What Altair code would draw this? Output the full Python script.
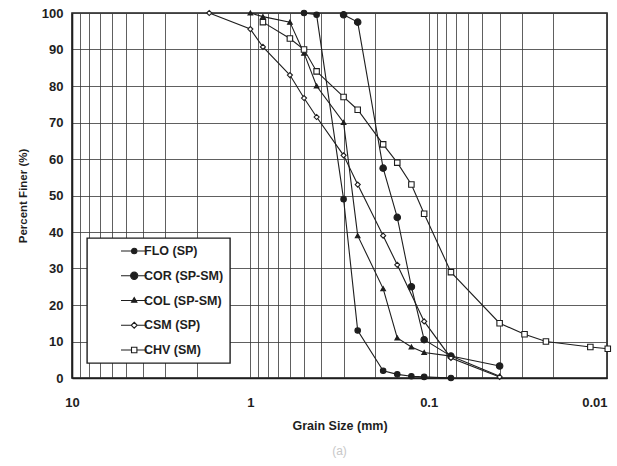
import altair as alt
import pandas as pd

# ---- data ----
series_names = ["FLO (SP)", "COR (SP-SM)", "COL (SP-SM)", "CSM (SP)", "CHV (SM)"]

flo_size = [0.5, 0.425, 0.3, 0.25, 0.18, 0.15, 0.125, 0.106, 0.075]
flo_pct = [100, 99.5, 49, 13, 2, 1, 0.5, 0.3, 0]

cor_size = [0.3, 0.25, 0.18, 0.15, 0.125, 0.106, 0.075, 0.04]
cor_pct = [99.5, 97.5, 57.5, 44, 25, 10.5, 6, 3.3]

col_size = [1.0, 0.85, 0.6, 0.5, 0.425, 0.3, 0.25, 0.18, 0.15, 0.125, 0.106, 0.075, 0.04]
col_pct = [100, 99, 97.5, 89, 80, 70, 39, 24.5, 11, 8.5, 7, 6, 0.5]

csm_size = [1.7, 1.0, 0.85, 0.6, 0.5, 0.425, 0.3, 0.25, 0.18, 0.15, 0.106, 0.075, 0.04]
csm_pct = [100, 95.6, 90.7, 83, 76.7, 71.5, 61, 53, 39, 31, 15.5, 5.5, 0.3]

chv_size = [0.85, 0.6, 0.5, 0.425, 0.3, 0.25, 0.18, 0.15, 0.125, 0.106, 0.075, 0.04, 0.029, 0.022, 0.0124, 0.0099]
chv_pct = [97.5, 93, 90, 84, 77, 73.5, 64, 59, 53, 45, 29, 15, 12, 10, 8.5, 8]

x_grid_values = [0.01, 0.02, 0.03, 0.04, 0.05, 0.06, 0.07, 0.08, 0.09,
                 0.1, 0.2, 0.3, 0.4, 0.5, 0.6, 0.7, 0.8, 0.9,
                 1, 2, 3, 4, 5, 6, 7, 8, 9, 10]
y_values = [0, 10, 20, 30, 40, 50, 60, 70, 80, 90, 100]

# ---- build table ----
rows = []
for name, sz, pc in zip(series_names,
                        [flo_size, cor_size, col_size, csm_size, chv_size],
                        [flo_pct, cor_pct, col_pct, csm_pct, chv_pct]):
    for s, p in zip(sz, pc):
        rows.append({"series": name, "size": s, "pct": p})
df = pd.DataFrame(rows)
df["leg"] = df["series"]

INK = "#1e1e1e"
FONT = "Liberation Sans"

x_enc = alt.X("size:Q",
              scale=alt.Scale(type="log", domain=[0.01, 10], reverse=True, nice=False),
              axis=alt.Axis(values=x_grid_values, title="Grain Size (mm)",
                            labelExpr="(abs(log(datum.value)/LN10 - round(log(datum.value)/LN10)) < 0.001) ? format(datum.value, '~g') : ''",
                            labelAlign=alt.ExprRef(expr="datum.value < 0.011 ? 'right' : 'center'"),
                            ticks=False, labelPadding=18, titlePadding=10, labelFlush=False,
                            labelFontSize=13, titleFontSize=12.5))
y_enc = alt.Y("pct:Q", scale=alt.Scale(domain=[0, 100], nice=False),
              axis=alt.Axis(values=y_values, title="Percent Finer (%)", ticks=False,
                            labelPadding=9, titlePadding=13, labelFlush=False,
                            labelFontSize=13, titleFontSize=11.5))

lines = alt.Chart(df).mark_line(color=INK, strokeWidth=1.1).encode(
    x=x_enc, y=y_enc, detail="series:N", order="size:Q"
)

marker_shape = ["circle", "circle", "triangle-up", "diamond", "square"]
marker_fill = [INK, INK, INK, "white", "white"]
marker_size = [30, 42, 22, 26, 30]

point_layers = []
for name, shp, fil, siz in zip(series_names, marker_shape, marker_fill, marker_size):
    point_layers.append(
        alt.Chart(df).transform_filter(alt.datum.series == name).mark_point(
            shape=shp, fill=fil, filled=True, size=siz, stroke=INK,
            strokeWidth=1.1, opacity=1
        ).encode(x=x_enc, y=y_enc)
    )

# legend glyphs: line + marker (path units scaled by sqrt(size)/2), shifted right by dx units
def glyph(kind, r, dx=1.2):
    L, R = -2.2 + dx, 2.1 + dx
    a, b = dx - r, dx + r
    if kind == "circle":
        return (f"M{L},0H{a}M{b},0H{R}M{a},0A{r},{r} 0 1,0 {b},0A{r},{r} 0 1,0 {a},0Z")
    if kind == "triangle":
        return f"M{L},0H{R}M{dx},{-r - 0.05}L{b},{r - 0.15}H{a}Z"
    if kind == "diamond":
        return f"M{L},0H{a}M{b},0H{R}M{dx},{-r}L{b},0L{dx},{r}L{a},0Z"
    return f"M{L},0H{a}M{b},0H{R}M{a},{-r}H{b}V{r}H{a}Z"

leg_paths = [glyph("circle", 0.45), glyph("circle", 0.6), glyph("triangle", 0.45),
             glyph("diamond", 0.5), glyph("square", 0.45)]

legend_layer = alt.Chart(df).transform_filter("false").mark_point(
    filled=True, stroke=INK, strokeWidth=1.1, opacity=1).encode(
    x=x_enc, y=y_enc,
    shape=alt.Shape("leg:N", scale=alt.Scale(domain=series_names, range=leg_paths),
                    legend=alt.Legend(title=None)),
    fill=alt.Fill("leg:N", scale=alt.Scale(domain=series_names, range=marker_fill),
                  legend=alt.Legend(title=None)),
    stroke=alt.Stroke("leg:N", scale=alt.Scale(domain=series_names, range=[INK] * 5),
                      legend=alt.Legend(title=None)),
)

chart = alt.layer(lines, *point_layers, legend_layer).properties(
    width=535, height=365,
    autosize=alt.AutoSizeParams(type="none"),
    padding={"left": 72, "top": 13, "right": 10, "bottom": 88},
    title=alt.Title("(a)", orient="bottom", color="#c8c8c8", fontSize=12,
                    fontWeight="normal", font=FONT, offset=14),
    background="white",
).configure_view(
    stroke=INK, strokeWidth=1.6
).configure_axis(
    grid=True, gridColor="#3a3a3a", gridWidth=0.9, gridOpacity=0.9,
    domain=True, domainColor=INK, domainWidth=1.6,
    labelFont=FONT, titleFont=FONT, labelFontWeight="bold", titleFontWeight="bold",
    labelColor=INK, titleColor=INK, labelOverlap=False,
).configure_legend(
    orient="bottom-left", offset=15, padding=6,
    strokeColor=INK, strokeWidth=1.4, fillColor="white",
    symbolSize=144, symbolStrokeWidth=1.1, symbolStrokeColor=INK,
    symbolOffset=27, labelOffset=10, rowPadding=10.75,
    labelFont=FONT, labelFontSize=12.5, labelFontWeight="bold", labelColor=INK,
)

chart.save("out.html", embed_options={"renderer": "svg", "actions": False})
